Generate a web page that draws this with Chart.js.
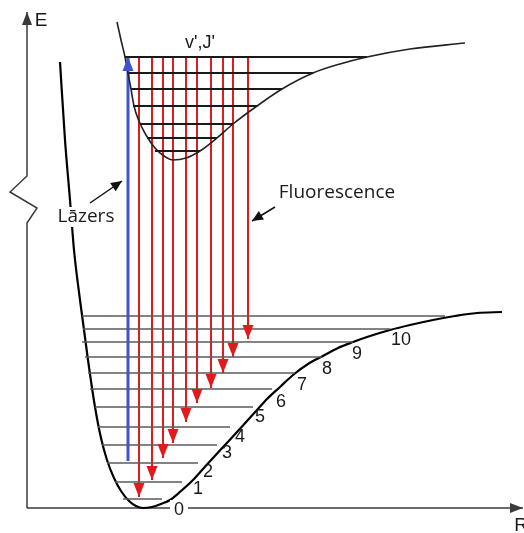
<!DOCTYPE html>
<html>
<head>
<meta charset="utf-8">
<script src="https://cdn.jsdelivr.net/npm/chart.js@4"></script>
<style>
    body { margin: 0; background: #fff; }
    canvas { display: block; }
</style>
</head>
<body>
<canvas id="lifChart" width="524" height="533"></canvas>
<script>
// Potential curves (R, E)
const groundR = [60, 65, 70, 74, 80, 88, 95, 101, 107, 114, 121, 129, 136, 143, 152, 161, 170, 181, 193, 203, 213, 225, 237, 247, 257, 267, 280, 293, 308, 323, 338, 353, 370, 390, 410, 433, 455, 477, 502];
const groundE = [446, 368, 308, 258, 208, 148, 101, 70, 48, 30, 17, 7, 2, 0, 1, 4, 8, 17, 28, 39, 50, 63, 76, 87, 98, 109, 121, 133, 144, 152, 160, 166, 172, 178, 183, 188, 192, 195, 196];

const excitedR = [117, 121, 125, 128, 131, 134, 139, 146, 155, 164, 173, 186, 200, 217, 233, 257, 282, 313, 340, 367, 410, 465];
const excitedE = [486, 468, 451, 435, 419, 402, 387, 373, 360, 352, 348, 350, 357, 370, 384, 402, 419, 435, 444, 451, 459, 465];

// Vibrational levels: energy, left and right turning points
const groundLevelE = [192, 179, 166, 151, 135, 119, 101, 81, 63, 45, 26, 9];
const groundLevelL = [82, 83, 82, 85, 88, 90, 95, 98, 102, 107, 115, 123];
const groundLevelR = [445, 390, 353, 322, 295, 272, 253, 230, 217, 198, 182, 162];

const excitedLevelE = [451, 435, 419, 402, 384, 370, 357];
const excitedLevelL = [125, 129, 131, 133, 140, 147, 155];
const excitedLevelR = [367, 313, 282, 257, 233, 217, 200];

// Laser excitation and fluorescence lines
const laserR = 128;
const laserFrom = 47;
const laserTo = 451;
const fluoR = [139, 152, 163, 173, 186, 197, 211, 223, 233, 248];
const fluoFrom = 451;
const fluoTo = [11, 28, 50, 65, 86, 105, 120, 135, 151, 169];

// Axes (E axis has a break)
const eAxisR = [27, 27, 37, 10, 27, 27];
const eAxisE = [0, 285, 300, 316, 332, 496];
const rAxisR = [27, 523];
const rAxisE = [0, 0];

// Pointers for the two captions
const laserPointerR = [90, 122];
const laserPointerE = [305, 327];
const fluoPointerR = [275, 252];
const fluoPointerE = [301, 287];

// Text
const vNumbers = ['0', '1', '2', '3', '4', '5', '6', '7', '8', '9', '10'];
const vNumberR = [179, 198, 208, 227, 240, 260, 281, 302, 327, 357, 401];
const vNumberE = [-2, 19, 36, 55, 71, 91, 106, 123, 139, 154, 168];
const captions = ['E', 'R', "v',J'", 'Lāzers', 'Fluorescence'];
const captionR = [41, 521, 200, 86, 337];
const captionE = [487, -18, 465, 291, 315];

function toPoints(xs, ys) {
    return xs.map((x, i) => ({ x: x, y: ys[i] }));
}

function segment(x1, y1, x2, y2) {
    return [{ x: x1, y: y1 }, { x: x2, y: y2 }];
}

const datasets = [];

// Level lines first, so curves sit on top
groundLevelE.forEach((e, i) => {
    datasets.push({
        data: segment(groundLevelL[i], e, groundLevelR[i], e),
        borderColor: '#5a5a5a',
        borderWidth: 1.6
    });
});
excitedLevelE.forEach((e, i) => {
    datasets.push({
        data: segment(excitedLevelL[i], e, excitedLevelR[i], e),
        borderColor: '#1a1a1a',
        borderWidth: 2
    });
});

datasets.push({
    data: toPoints(groundR, groundE),
    borderColor: '#000',
    borderWidth: 2.2,
    cubicInterpolationMode: 'monotone'
});
datasets.push({
    data: toPoints(excitedR, excitedE),
    borderColor: '#222',
    borderWidth: 1.6,
    cubicInterpolationMode: 'monotone'
});

// Fluorescence arrows
fluoR.forEach((r, i) => {
    datasets.push({
        data: segment(r, fluoFrom, r, fluoTo[i]),
        borderColor: '#e01b1b',
        borderWidth: 2,
        arrow: { len: 14, half: 5.5 }
    });
});

// Laser arrow
datasets.push({
    data: segment(laserR, laserFrom, laserR, laserTo),
    borderColor: '#4152d2',
    borderWidth: 3,
    arrow: { len: 14, half: 5.5 }
});

// Axes
datasets.push({
    data: toPoints(eAxisR, eAxisE),
    borderColor: '#3a3a3a',
    borderWidth: 1.5,
    arrow: { len: 13, half: 5 }
});
datasets.push({
    data: toPoints(rAxisR, rAxisE),
    borderColor: '#3a3a3a',
    borderWidth: 1.5,
    arrow: { len: 13, half: 5 }
});

// Caption pointers
datasets.push({
    data: toPoints(laserPointerR, laserPointerE),
    borderColor: '#111',
    borderWidth: 1.5,
    arrow: { len: 11, half: 5 }
});
datasets.push({
    data: toPoints(fluoPointerR, fluoPointerE),
    borderColor: '#111',
    borderWidth: 1.5,
    arrow: { len: 11, half: 5 }
});

// Draws a filled head on the last point of datasets that have an "arrow" setting
const arrowHeads = {
    id: 'arrowHeads',
    afterDatasetsDraw(chart) {
        const ctx = chart.ctx;
        chart.data.datasets.forEach((ds, i) => {
            if (!ds.arrow) return;
            const pts = chart.getDatasetMeta(i).data;
            const a = pts[pts.length - 2];
            const b = pts[pts.length - 1];
            const ang = Math.atan2(b.y - a.y, b.x - a.x);
            const len = ds.arrow.len;
            const half = ds.arrow.half;
            ctx.save();
            ctx.translate(b.x, b.y);
            ctx.rotate(ang);
            ctx.fillStyle = ds.borderColor;
            ctx.beginPath();
            ctx.moveTo(0, 0);
            ctx.lineTo(-len, -half);
            ctx.lineTo(-len, half);
            ctx.closePath();
            ctx.fill();
            ctx.restore();
        });
    }
};

// Text labels placed through the scales
const textLabels = {
    id: 'textLabels',
    afterDraw(chart) {
        const ctx = chart.ctx;
        const xs = chart.scales.x;
        const ys = chart.scales.y;
        ctx.save();
        ctx.textBaseline = 'middle';

        function put(text, r, e, font, align, clear) {
            const px = xs.getPixelForValue(r);
            const py = ys.getPixelForValue(e);
            ctx.font = font;
            ctx.textAlign = align;
            if (clear) {
                const w = ctx.measureText(text).width;
                const left = align === 'center' ? px - w / 2 : px;
                ctx.fillStyle = '#fff';
                ctx.fillRect(left - 4, py - 10, w + 8, 20);
            }
            ctx.fillStyle = '#1a1a1a';
            ctx.fillText(text, px, py);
        }

        vNumbers.forEach((t, i) => {
            put(t, vNumberR[i], vNumberE[i], '18px "Liberation Sans"', 'center', i === 0);
        });

        put(captions[0], captionR[0], captionE[0], '19px "Liberation Sans"', 'center', false);
        put(captions[1], captionR[1], captionE[1], '19px "Liberation Sans"', 'center', false);
        put(captions[2], captionR[2], captionE[2], '18px "Liberation Sans"', 'center', false);
        put(captions[3], captionR[3], captionE[3], '19px "Open Sans"', 'center', true);
        put(captions[4], captionR[4], captionE[4], '19px "Open Sans"', 'center', false);
        ctx.restore();
    }
};

new Chart(document.getElementById('lifChart'), {
    type: 'scatter',
    data: { datasets: datasets.map(ds => Object.assign({ showLine: true, pointRadius: 0, fill: false }, ds)) },
    options: {
        responsive: false,
        animation: false,
        layout: { padding: 0 },
        plugins: {
            legend: { display: false },
            tooltip: { enabled: false }
        },
        scales: {
            x: { type: 'linear', min: 0, max: 524, display: false },
            y: { type: 'linear', min: -25, max: 508, display: false }
        }
    },
    plugins: [arrowHeads, textLabels]
});
</script>
</body>
</html>
